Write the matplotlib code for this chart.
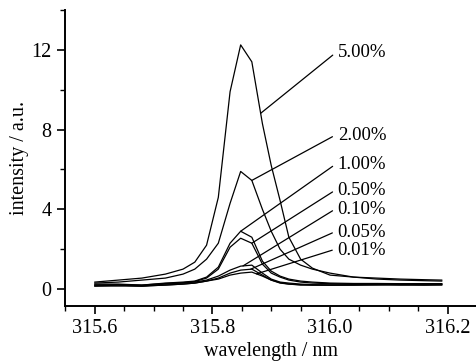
import numpy as np
import matplotlib
matplotlib.use('Agg')
import matplotlib.pyplot as plt
from matplotlib.ticker import MultipleLocator

plt.rcParams['font.family'] = ['Liberation Serif', 'DejaVu Serif']

# wavelength grid (nm)
wl = [315.60, 315.64, 315.68, 315.72, 315.75, 315.77, 315.79, 315.81, 315.83,
      315.848, 315.867, 315.885, 315.90, 315.915, 315.93, 315.95, 315.97,
      316.00, 316.04, 316.08, 316.12, 316.16, 316.19]

# intensities for each concentration
i_500 = [0.35, 0.45, 0.55, 0.75, 1.0, 1.35, 2.2, 4.6, 9.9, 12.25, 11.4, 8.3, 6.2,
         4.45, 2.6, 1.5, 1.05, 0.7, 0.6, 0.55, 0.5, 0.47, 0.45]
i_200 = [0.3, 0.35, 0.45, 0.55, 0.75, 1.0, 1.5, 2.3, 4.3, 5.9, 5.45, 4.0, 2.9,
         2.0, 1.5, 1.2, 1.0, 0.8, 0.6, 0.5, 0.45, 0.42, 0.4]
i_100 = [0.25, 0.25, 0.2, 0.3, 0.35, 0.4, 0.6, 1.1, 2.3, 2.9, 2.6, 1.4, 0.9,
         0.65, 0.5, 0.4, 0.35, 0.3, 0.28, 0.28, 0.27, 0.27, 0.27]
i_050 = [0.2, 0.22, 0.2, 0.28, 0.32, 0.38, 0.55, 1.0, 2.1, 2.55, 2.3, 1.25, 0.8,
         0.6, 0.45, 0.35, 0.3, 0.27, 0.25, 0.25, 0.25, 0.25, 0.25]
i_010 = [0.15, 0.2, 0.15, 0.25, 0.3, 0.35, 0.45, 0.65, 0.95, 1.15, 1.2, 0.8, 0.5,
         0.35, 0.3, 0.25, 0.22, 0.2, 0.22, 0.25, 0.22, 0.25, 0.25]
i_005 = [0.15, 0.15, 0.15, 0.2, 0.25, 0.3, 0.4, 0.55, 0.8, 0.95, 1.0, 0.7, 0.45,
         0.32, 0.25, 0.22, 0.2, 0.2, 0.2, 0.22, 0.2, 0.2, 0.22]
i_001 = [0.2, 0.2, 0.15, 0.2, 0.25, 0.3, 0.4, 0.5, 0.7, 0.8, 0.85, 0.65, 0.45,
         0.3, 0.25, 0.2, 0.2, 0.2, 0.2, 0.2, 0.22, 0.2, 0.2]

labels = ['5.00%', '2.00%', '1.00%', '0.50%', '0.10%', '0.05%', '0.01%']
series = [i_500, i_200, i_100, i_050, i_010, i_005, i_001]
# wavelength where each leader line touches its curve
point_at = [315.882, 315.867, 315.848, 315.867, 315.852, 315.865, 315.875]
# label anchor (data coords)
label_x = 316.013
label_y = [11.85, 7.7, 6.25, 4.95, 4.0, 2.85, 1.95]

fig = plt.figure(figsize=(4.77, 3.62), dpi=100)
ax = fig.add_axes([0.136, 0.1547, 0.864, 0.8177])

for s in series:
    ax.plot(wl, s, color='black', lw=0.9)

for lab, s, px, ly in zip(labels, series, point_at, label_y):
    py = np.interp(px, wl, s)
    ax.annotate(lab, xy=(px, py), xytext=(label_x, ly), fontsize=13.5,
                ha='left', va='center',
                arrowprops=dict(arrowstyle='-', color='black', lw=0.9,
                                shrinkA=2, shrinkB=0, relpos=(0, 0.6)))

ax.set_xlim(315.549, 316.25)
ax.set_ylim(-0.85, 14)
ax.xaxis.set_minor_locator(MultipleLocator(0.05))
ax.yaxis.set_minor_locator(MultipleLocator(2))
ax.set_xticks([315.6, 315.8, 316.0, 316.2])
ax.set_xticklabels(['315.6', '315.8', '316.0', '316.2'])
ax.set_yticks([0, 4, 8, 12])

for side in ['top', 'right']:
    ax.spines[side].set_visible(False)
for side in ['left', 'bottom']:
    ax.spines[side].set_linewidth(1.4)

ax.tick_params(which='major', direction='out', length=6, width=1.2, labelsize=14.5)
ax.tick_params(which='minor', direction='out', length=3.5, width=1.0)

ax.set_xlabel('wavelength / nm', fontsize=14.5, labelpad=3)
ax.set_ylabel('intensity / a.u.', fontsize=14.5, labelpad=2)

fig.savefig('out.png', dpi=100)
